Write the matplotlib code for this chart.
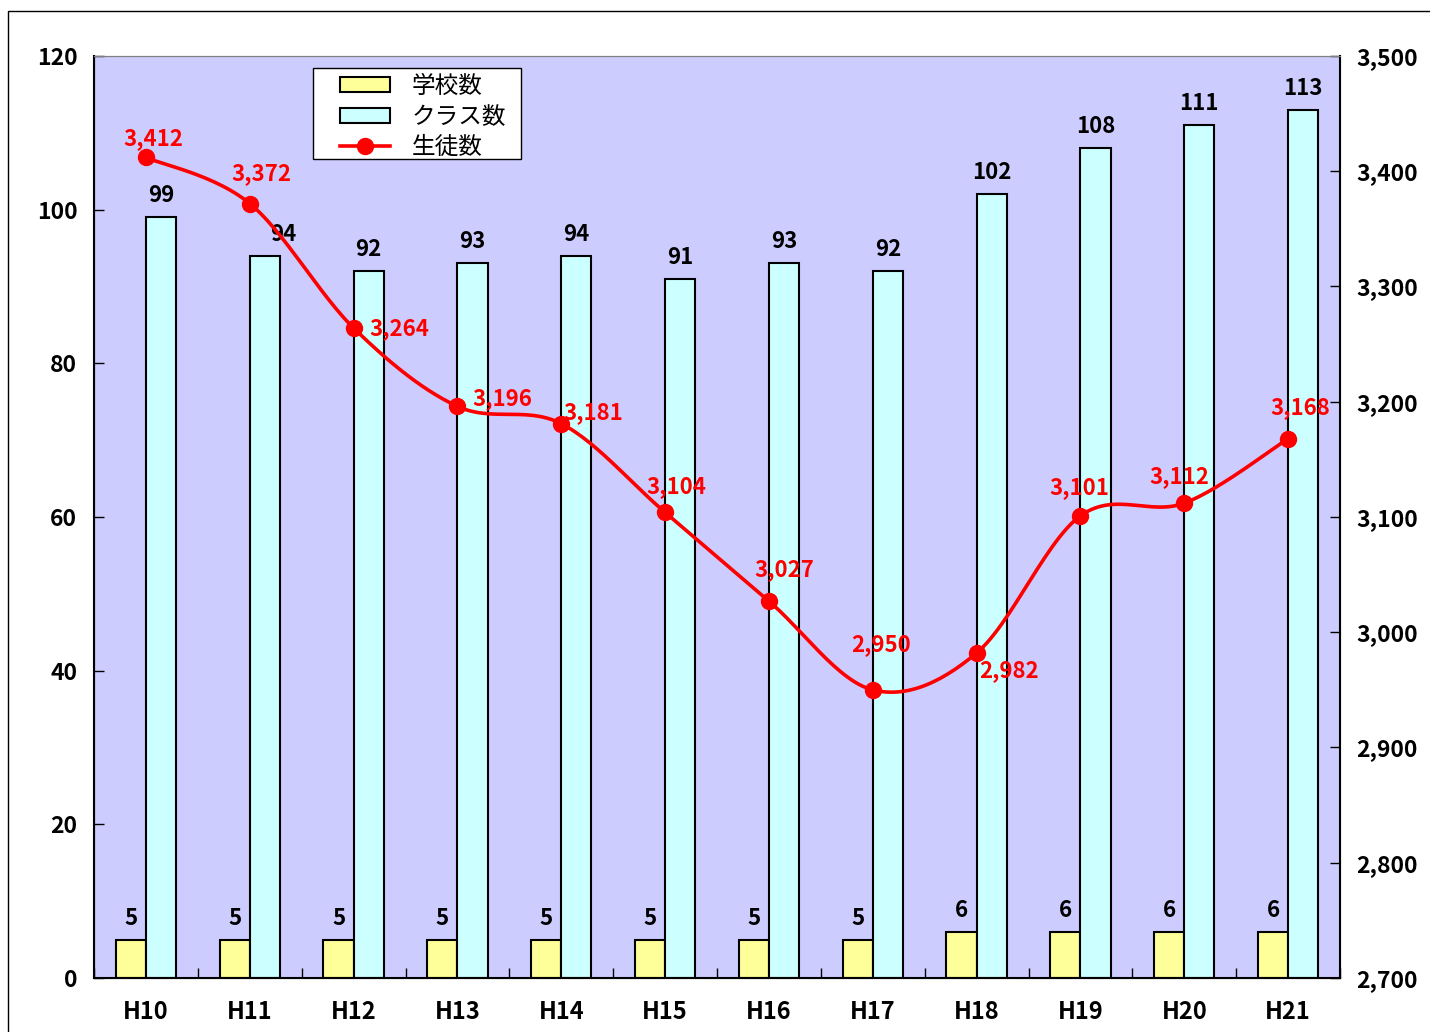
import numpy as np
import matplotlib.pyplot as plt
from matplotlib.patches import Rectangle, Patch
from matplotlib.lines import Line2D

plt.rcParams['font.family'] = ['Noto Sans CJK JP', 'DejaVu Sans']
plt.rcParams['font.weight'] = 'bold'

years = ['H10', 'H11', 'H12', 'H13', 'H14', 'H15', 'H16', 'H17', 'H18', 'H19', 'H20', 'H21']
schools = [5, 5, 5, 5, 5, 5, 5, 5, 6, 6, 6, 6]
classes = [99, 94, 92, 93, 94, 91, 93, 92, 102, 108, 111, 113]
students = [3412, 3372, 3264, 3196, 3181, 3104, 3027, 2950, 2982, 3101, 3112, 3168]

# label offsets for the student numbers (pixels)
stud_off = [(7, 19), (12, 30), (46, -1), (45, 8), (32, 11), (11, 26),
            (15, 32), (8, 45), (32, -18), (-1, 28), (-5, 27), (12, 31)]


def smooth(x, y, sx, sy, n=30):
    # catmull-rom style smoothing in screen-like space
    px = np.asarray(x, float) * sx
    py = np.asarray(y, float) * sy
    out_x, out_y = [], []
    m = len(px)
    for i in range(m - 1):
        p0 = (px[max(i - 1, 0)], py[max(i - 1, 0)])
        p1 = (px[i], py[i])
        p2 = (px[i + 1], py[i + 1])
        p3 = (px[min(i + 2, m - 1)], py[min(i + 2, m - 1)])
        c1 = (p1[0] + (p2[0] - p0[0]) / 6, p1[1] + (p2[1] - p0[1]) / 6)
        c2 = (p2[0] - (p3[0] - p1[0]) / 6, p2[1] - (p3[1] - p1[1]) / 6)
        t = np.linspace(0, 1, n)
        bx = (1-t)**3*p1[0] + 3*(1-t)**2*t*c1[0] + 3*(1-t)*t**2*c2[0] + t**3*p2[0]
        by = (1-t)**3*p1[1] + 3*(1-t)**2*t*c1[1] + 3*(1-t)*t**2*c2[1] + t**3*p2[1]
        out_x.extend(bx)
        out_y.extend(by)
    return np.array(out_x) / sx, np.array(out_y) / sy


fig = plt.figure(figsize=(14.3, 10.32), dpi=100)
fig.patches.append(Rectangle((8/1430, -0.1), 2, 1.1 - 11/1032, transform=fig.transFigure,
                             fill=False, edgecolor='black', linewidth=1))
ax = fig.add_axes([94/1430, 54/1032, 1246/1430, 922/1032])
ax.set_facecolor('#CCCCFF')

x = np.arange(len(years))
w = 0.29
ax.bar(x - w/2, schools, w, color='#FFFF99', edgecolor='black', linewidth=1.5, zorder=2)
ax.bar(x + w/2, classes, w, color='#CCFFFF', edgecolor='black', linewidth=1.5, zorder=2)
for i in range(len(x)):
    ax.annotate(str(schools[i]), (x[i] - w/2, schools[i]), xytext=(0, 10),
                textcoords='offset pixels', ha='center', va='bottom', fontsize=16)
    dx = 18 if i == 1 else 0
    ax.annotate(str(classes[i]), (x[i] + w/2, classes[i]), xytext=(dx, 10),
                textcoords='offset pixels', ha='center', va='bottom', fontsize=16)

ax.set_xlim(-0.5, len(years) - 0.5)
ax.set_ylim(0, 120)
ax.set_yticks(range(0, 121, 20))
ax.set_xticks(x)
ax.set_xticklabels(years)
ax.set_xticks(np.arange(-0.5, len(years), 1), minor=True)
ax.tick_params(axis='x', which='major', length=0, pad=16, labelsize=17)
ax.tick_params(axis='x', which='minor', direction='in', length=7, width=1)
ax.tick_params(axis='y', direction='in', length=7, width=1, pad=12, labelsize=16.5)
ax.spines['top'].set_color('#808080')
ax.spines['right'].set_color('#808080')
for s in ['left', 'bottom']:
    ax.spines[s].set_linewidth(1.5)

ax2 = ax.twinx()
ax2.set_ylim(2700, 3500)
ax2.set_yticks(range(2700, 3501, 100))
ax2.set_yticklabels([f'{v:,}' for v in range(2700, 3501, 100)])
ax2.tick_params(axis='y', direction='in', length=7, width=1, pad=12, labelsize=16.5)
ax2.spines['right'].set_linewidth(1.5)
ax2.spines['top'].set_color('#808080')

sx_, sy_ = smooth(x, students, 103.8, 1.1525)
ax2.plot(sx_, sy_, color='#FF0000', linewidth=2.6, zorder=3)
ax2.plot(x, students, 'o', color='#FF0000', markersize=11.5, zorder=4)
for i in range(len(x)):
    ax2.annotate(f'{students[i]:,}', (x[i], students[i]), xytext=stud_off[i],
                 textcoords='offset pixels', ha='center', va='center',
                 fontsize=16, color='#FF0000')

# legend box drawn separately so its padding matches
ax2.add_patch(Rectangle((0.1758, 0.888), 0.1669, 0.099, transform=ax2.transAxes,
                        facecolor='white', edgecolor='black', linewidth=1, zorder=5))
handles = [Patch(facecolor='#FFFF99', edgecolor='black', linewidth=1.5),
           Patch(facecolor='#CCFFFF', edgecolor='black', linewidth=1.5),
           Line2D([], [], color='#FF0000', linewidth=2.6, marker='o', markersize=11.5)]
leg = ax2.legend(handles, ['学校数', 'クラス数', '生徒数'], loc='upper left',
                 bbox_to_anchor=(0.1974, 0.9794), frameon=False,
                 handlelength=2.1, handleheight=0.6, labelspacing=0.32,
                 borderpad=0, handletextpad=0.93, borderaxespad=0,
                 prop={'family': ['Noto Sans CJK JP'], 'size': 17, 'weight': 'normal'})
leg.set_zorder(6)

fig.savefig('out.png', dpi=100)
